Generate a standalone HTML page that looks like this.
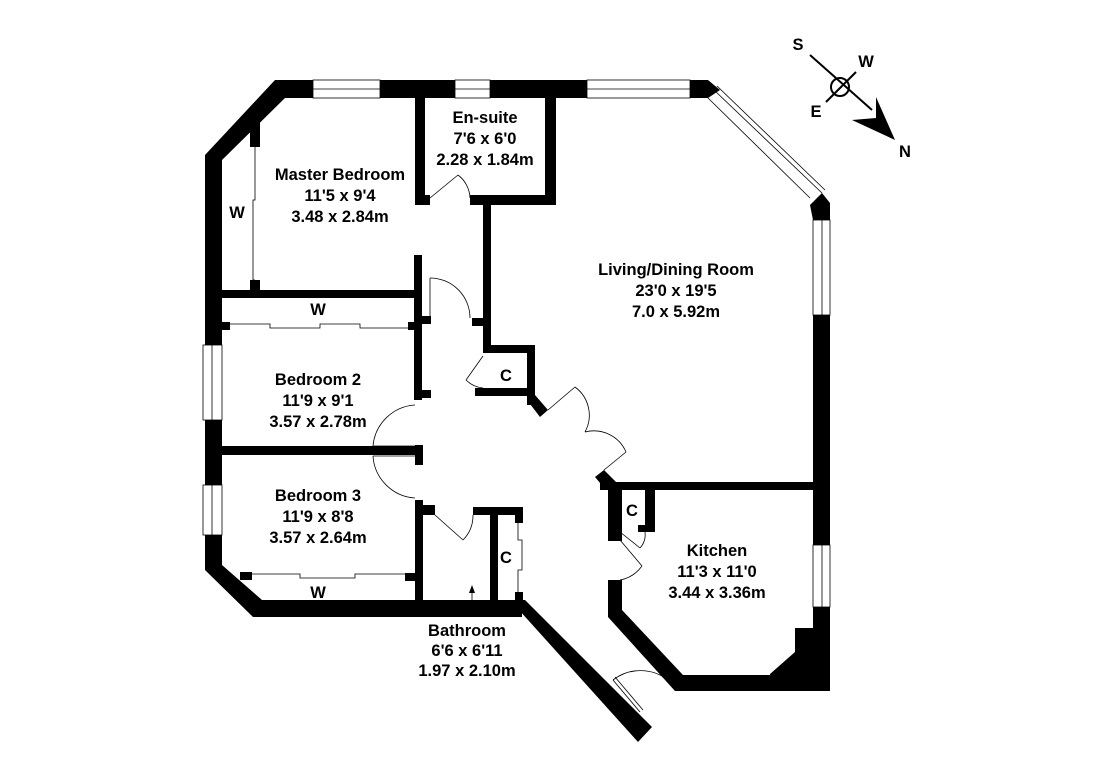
<!DOCTYPE html>
<html><head><style>
html,body{margin:0;padding:0;background:#fff;}
svg{display:block}
text{font-family:"Liberation Sans",Arial,sans-serif;font-weight:bold;font-size:16.5px;fill:#000;text-anchor:middle}
</style></head><body>
<svg width="1095" height="774" viewBox="0 0 1095 774" xmlns="http://www.w3.org/2000/svg">
<g fill="#000">
<polygon points="275,80 708,80 720,90 708,98 285,98 222,160 222,570 205,570 205,155"/>
<polygon points="205,565 222,565 262,600 522,600 522,617 253,617 205,570"/>
<polygon points="510,600 525,600 652,727 638,742"/>
<polygon points="810,205 822,193 830,203 830,220 813,220"/>
<rect x="813" y="315" width="17" height="230"/>
<rect x="813" y="607" width="17" height="84"/>
<polygon points="795,628 813,628 813,690 770,690 770,674 795,652"/>
<polygon points="608,580 622,580 622,610 683,675 830,675 830,691 675,691 608,617"/>
<rect x="608" y="485" width="14" height="56"/>
<rect x="600" y="482" width="230" height="8"/>
<polygon points="595,477 604,470 616,482 606,490"/>
<rect x="645" y="490" width="10" height="38"/>
<rect x="638" y="525" width="17" height="7"/>
<rect x="608" y="525" width="12" height="7"/>
<rect x="415" y="97" width="10" height="107"/>
<rect x="545" y="97" width="11" height="108"/>
<rect x="415" y="195" width="15" height="10"/>
<rect x="470" y="195" width="86" height="10"/>
<rect x="483" y="205" width="8" height="125"/>
<rect x="472" y="318" width="19" height="8"/>
<rect x="220" y="290" width="202" height="8"/>
<rect x="414" y="255" width="8" height="145"/>
<rect x="422" y="316" width="9" height="8"/>
<rect x="250" y="122" width="10" height="25"/>
<rect x="250" y="280" width="10" height="12"/>
<rect x="220" y="322" width="10" height="8"/>
<rect x="408" y="322" width="14" height="8"/>
<rect x="422" y="390" width="9" height="8"/>
<rect x="483" y="345" width="52" height="8"/>
<rect x="527" y="345" width="8" height="60"/>
<rect x="475" y="388" width="52" height="8"/>
<polygon points="527,400 535,395 548,410 540,417"/>
<polygon points="483,326 491,326 491,352 483,352"/>
<rect x="220" y="446" width="195" height="9"/>
<rect x="415" y="445" width="8" height="20"/>
<rect x="205" y="420" width="17" height="65"/>
<rect x="415" y="500" width="8" height="100"/>
<rect x="423" y="505" width="12" height="10"/>
<rect x="473" y="507" width="50" height="8"/>
<rect x="490" y="515" width="8" height="85"/>
<rect x="515" y="515" width="8" height="8"/>
<rect x="515" y="592" width="8" height="8"/>
<rect x="240" y="572" width="12" height="8"/>
<rect x="405" y="573" width="12" height="8"/>
</g>
<g fill="#fff" stroke="#000" stroke-width="0.8">
<rect x="313" y="80" width="67" height="18"/>
<rect x="455" y="80" width="35" height="18"/>
<rect x="587" y="80" width="103" height="18"/>
<rect x="203" y="345" width="19" height="75"/>
<rect x="203" y="485" width="19" height="50"/>
<rect x="813" y="220" width="17" height="95"/>
<rect x="813" y="545" width="17" height="62"/>
</g>
<g fill="none" stroke="#000" stroke-width="0.8">
<line x1="313" y1="89" x2="380" y2="89"/><line x1="455" y1="89" x2="490" y2="89"/><line x1="587" y1="89" x2="690" y2="89"/>
<line x1="212" y1="345" x2="212" y2="420"/><line x1="212" y1="485" x2="212" y2="535"/>
<line x1="822" y1="220" x2="822" y2="315"/><line x1="822" y1="545" x2="822" y2="607"/>
<line x1="708" y1="98" x2="810" y2="198"/><line x1="714" y1="90" x2="822" y2="193"/><line x1="717" y1="86" x2="825" y2="190"/>
<polyline points="255,147 255,200 253,200 253,280 255,280"/>
<polyline points="230,324 270,324 270,328 320,328 320,324 360,324 360,328 408,328"/>
<polyline points="252,574 300,574 300,578 355,578 355,574 405,574"/>
<polyline points="518,523 518,540 522,540 522,570 518,570 518,592"/>
<line x1="430" y1="198" x2="458" y2="175"/><path d="M458,175 A30,30 0 0 1 470,198"/>
<line x1="430" y1="278" x2="430" y2="318"/><path d="M430,278 A40,40 0 0 1 470,318"/>
<line x1="483" y1="356" x2="466" y2="380"/><path d="M466,380 A28,28 0 0 0 483,388"/>
<path d="M415,405 A45,45 0 0 0 373,446"/><line x1="373" y1="446" x2="415" y2="446"/>
<path d="M415,498 A45,45 0 0 1 373,456"/><line x1="373" y1="456" x2="415" y2="456"/>
<line x1="435" y1="515" x2="463" y2="540"/><path d="M463,540 A35,35 0 0 0 473,515"/>
<line x1="548" y1="410" x2="575" y2="387"/><path d="M575,387 A35,35 0 0 1 585,432"/>
<line x1="604" y1="470" x2="626" y2="452"/><path d="M626,452 A35,35 0 0 0 585,432"/>
<line x1="620" y1="532" x2="640" y2="548"/><path d="M640,548 A20,20 0 0 0 645,532"/>
<line x1="620" y1="540" x2="642" y2="566"/><path d="M642,566 A35,35 0 0 1 620,580"/>
<line x1="613" y1="680" x2="640" y2="712"/><line x1="615" y1="677" x2="643" y2="710"/><path d="M613,680 A45,45 0 0 1 668,680"/>
<line x1="472" y1="608" x2="472" y2="590"/>
</g>
<polygon points="469,593 475,593 472,585" fill="#000"/>
<g stroke="#000" stroke-width="2" fill="none">
<line x1="810" y1="55" x2="872" y2="110"/>
<line x1="826" y1="102" x2="856" y2="72"/>
<circle cx="840" cy="87" r="9"/>
</g>
<polygon points="876,97 895,140 852,120 876,118" fill="#000"/>
<text x="798" y="50">S</text>
<text x="866" y="67">W</text>
<text x="816" y="117">E</text>
<text x="905" y="157">N</text>
<text x="340" y="180">Master Bedroom</text><text x="340" y="201">11'5 x 9'4</text><text x="340" y="222">3.48 x 2.84m</text>
<text x="485" y="123">En-suite</text><text x="485" y="144">7'6 x 6'0</text><text x="485" y="165">2.28 x 1.84m</text>
<text x="676" y="275">Living/Dining Room</text><text x="676" y="296">23'0 x 19'5</text><text x="676" y="317">7.0 x 5.92m</text>
<text x="318" y="315">W</text><text x="237" y="218">W</text>
<text x="318" y="385">Bedroom 2</text><text x="318" y="406">11'9 x 9'1</text><text x="318" y="427">3.57 x 2.78m</text>
<text x="318" y="501">Bedroom 3</text><text x="318" y="522">11'9 x 8'8</text><text x="318" y="543">3.57 x 2.64m</text>
<text x="318" y="598">W</text>
<text x="506" y="381">C</text><text x="632" y="516">C</text><text x="506" y="563">C</text>
<text x="717" y="556">Kitchen</text><text x="717" y="577">11'3 x 11'0</text><text x="717" y="598">3.44 x 3.36m</text>
<text x="467" y="636">Bathroom</text><text x="467" y="656">6'6 x 6'11</text><text x="467" y="676">1.97 x 2.10m</text>
</svg>
</body></html>
